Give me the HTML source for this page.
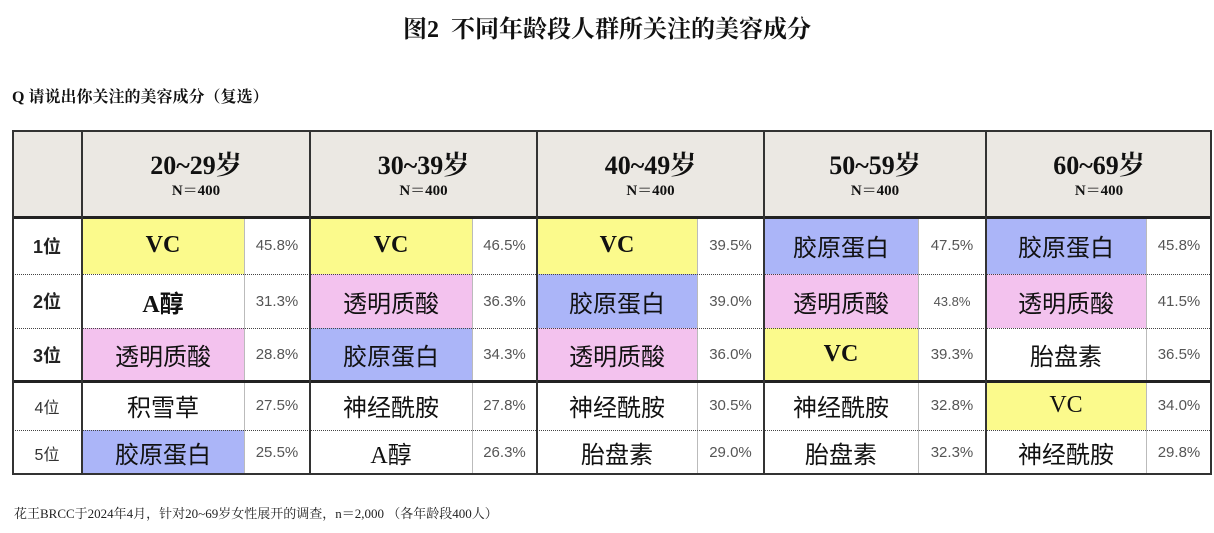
<!DOCTYPE html>
<html><head><meta charset="utf-8"><style>
body{margin:0;width:1214px;height:533px;background:#fff;position:relative;overflow:hidden;font-family:"Liberation Serif","Noto Serif CJK SC",serif;color:#111}
.a{position:absolute;box-sizing:border-box;display:flex;align-items:center;justify-content:center;text-align:center}
.n{font-size:24px;font-family:"Liberation Serif","Noto Sans CJK SC",sans-serif}
.p{font-family:"Liberation Sans","Noto Sans CJK SC",sans-serif;font-size:15px;color:#555}
.r{font-family:"Liberation Sans","Noto Sans CJK SC",sans-serif;font-size:18px;color:#333}
.y{background:#fbfa8c}.k{background:#f3c2ee}.b{background:#abb5f8}
.hl{position:absolute;left:12px;width:1200px}
.vl{position:absolute;top:130px;height:345px}
</style></head><body>
<div class="a" style="left:0;top:8px;width:1214px;height:36px;font-size:24px;font-weight:bold">图2&nbsp;&nbsp;不同年龄段人群所关注的美容成分</div>
<div class="a" style="left:12px;top:82px;height:26px;font-size:16px;font-weight:bold;justify-content:flex-start">Q 请说出你关注的美容成分（复选）</div>
<div class="a" style="left:12px;top:130px;width:1200px;height:87px;background:#ebe8e3"></div>
<div id="g"></div>
<div class="a" style="left:14px;top:500px;height:24px;font-size:13px;justify-content:flex-start;color:#222">花王BRCC于2024年4月，针对20~69岁女性展开的调查，n＝2,000 （各年龄段400人）</div>
<script>
const G=[[82,244,310],[310,472,537],[537,697,764],[764,918,986],[986,1146,1212]];
const ages=["20~29岁","30~39岁","40~49岁","50~59岁","60~69岁"];
const R=[[217,274],[274,328],[328,381],[381,430],[430,475]];
const D=[
[["VC","y",45.8],["VC","y",46.5],["VC","y",39.5],["胶原蛋白","b",47.5],["胶原蛋白","b",45.8]],
[["A醇","",31.3],["透明质酸","k",36.3],["胶原蛋白","b",39.0],["透明质酸","k",43.8],["透明质酸","k",41.5]],
[["透明质酸","k",28.8],["胶原蛋白","b",34.3],["透明质酸","k",36.0],["VC","y",39.3],["胎盘素","",36.5]],
[["积雪草","",27.5],["神经酰胺","",27.8],["神经酰胺","",30.5],["神经酰胺","",32.8],["VC","y",34.0]],
[["胶原蛋白","b",25.5],["A醇","",26.3],["胎盘素","",29.0],["胎盘素","",32.3],["神经酰胺","",29.8]]];
let h="";
G.forEach((g,i)=>{h+=`<div class="a" style="left:${g[0]}px;top:140px;width:${g[2]-g[0]}px;height:70px;flex-direction:column;font-weight:bold"><div style="font-size:26px;line-height:32px">${ages[i]}</div><div style="font-size:15px;line-height:18px">N＝400</div></div>`});
R.forEach((r,j)=>{
h+=`<div class="a r" style="left:12px;top:${r[0]}px;width:70px;height:${r[1]-r[0]}px;${j<3?'font-weight:bold;color:#222':'font-size:16px'}">${j+1}位</div>`;
G.forEach((g,i)=>{const d=D[j][i];const bold=(d[0]=="VC"&&j<3)||d[0]=="A醇"&&j<3;
h+=`<div class="a n ${d[1]}" style="left:${g[0]}px;top:${r[0]}px;width:${g[1]-g[0]}px;height:${r[1]-r[0]}px;${bold?'font-weight:bold;':''}">${d[0]}</div>`;
h+=`<div class="a p" style="left:${g[1]}px;top:${r[0]}px;width:${g[2]-g[1]}px;height:${r[1]-r[0]}px;${d[2]==43.8?'font-size:13px':''}">${d[2].toFixed(1)}%</div>`;
h+=`<div class="vl" style="left:${g[1]}px;top:217px;height:258px;border-left:1px solid #bbb"></div>`;});
});
[217,381].forEach(y=>h+=`<div class="hl" style="top:${y-1}px;border-top:3px solid #222"></div>`);
[274,328,430].forEach(y=>h+=`<div class="hl" style="top:${y}px;border-top:1px dotted #444"></div>`);
h+=`<div class="hl" style="top:130px;height:345px;border:2px solid #333;box-sizing:border-box"></div>`;
[82,310,537,764,986].forEach(x=>h+=`<div class="vl" style="left:${x-1}px;border-left:2px solid #333"></div>`);
document.getElementById("g").innerHTML=h;
</script>
</body></html>
